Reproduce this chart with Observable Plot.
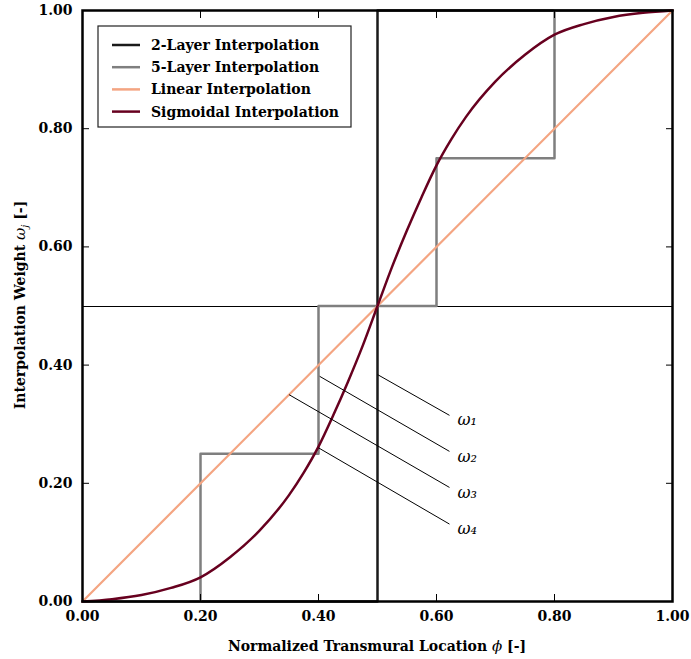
<!DOCTYPE html>
<html><head><meta charset="utf-8">
<script src="https://cdn.jsdelivr.net/npm/d3@7"></script>
<script src="https://cdn.jsdelivr.net/npm/@observablehq/plot@0.6"></script>
<style>body{margin:0;background:#fff}#chart{width:691px;height:659px}</style>
</head><body><div id="chart"></div>
<script>
const xTicks = [0, 0.2, 0.4, 0.6, 0.8, 1.0];
const yTicks = [0, 0.2, 0.4, 0.6, 0.8, 1.0];
const seriesNames = ["2-Layer Interpolation", "5-Layer Interpolation", "Linear Interpolation", "Sigmoidal Interpolation"];
const seriesColors = ["#1a1a1a", "#7f7f7f", "#f4a582", "#67001f"];
const twoLayerX = [0, 0.5, 0.5, 1];
const twoLayerY = [0, 0, 1, 1];
const fiveLayerX = [0, 0.2, 0.2, 0.4, 0.4, 0.6, 0.6, 0.8, 0.8, 1];
const fiveLayerY = [0, 0, 0.25, 0.25, 0.5, 0.5, 0.75, 0.75, 1, 1];
const linearX = [0, 1];
const linearY = [0, 1];
const sigmoidX = [0, 0.05, 0.1, 0.15, 0.2, 0.25, 0.3, 0.35, 0.375, 0.4, 0.425, 0.45, 0.475, 0.5, 0.525, 0.55, 0.575, 0.6, 0.625, 0.65, 0.7, 0.75, 0.8, 0.85, 0.9, 0.95, 1];
const sigmoidY = [0, 0.004, 0.011, 0.023, 0.041, 0.075, 0.12, 0.18, 0.218, 0.262, 0.315, 0.372, 0.433, 0.5, 0.567, 0.628, 0.685, 0.738, 0.782, 0.82, 0.88, 0.925, 0.959, 0.977, 0.989, 0.996, 1];
const refLineY = [0.5];
const annotLabels = ["ω₁", "ω₂", "ω₃", "ω₄"];
const annotX1 = [0.5, 0.402, 0.35, 0.4];
const annotY1 = [0.384, 0.381, 0.35, 0.26];
const annotX2 = [0.622, 0.622, 0.622, 0.622];
const annotY2 = [0.315, 0.254, 0.193, 0.131];

const toPts = (xs, ys) => xs.map((x, i) => ({x, y: ys[i]}));
const annot = annotLabels.map((s, i) => ({s, x1: annotX1[i], y1: annotY1[i], x2: annotX2[i], y2: annotY2[i]}));
const fmt = d3.format(".2f");
const serif = "'DejaVu Serif', 'Liberation Serif', serif";
const T = 7;

const svg = Plot.plot({
  width: 691, height: 659,
  marginLeft: 82, marginRight: 19, marginTop: 10, marginBottom: 58,
  style: {fontFamily: serif, fontSize: "14px", fontWeight: "bold", background: "#fff"},
  x: {domain: [0, 1], label: null},
  y: {domain: [0, 1], label: null},
  marks: [
    Plot.ruleY(refLineY, {stroke: "#000", strokeWidth: 1, shapeRendering: "crispEdges"}),
    Plot.line(toPts(twoLayerX, twoLayerY), {x: "x", y: "y", stroke: seriesColors[0], strokeWidth: 2.5}),
    Plot.line(toPts(fiveLayerX, fiveLayerY), {x: "x", y: "y", stroke: seriesColors[1], strokeWidth: 2.5}),
    Plot.line(toPts(linearX, linearY), {x: "x", y: "y", stroke: seriesColors[2], strokeWidth: 2.2}),
    Plot.line(toPts(sigmoidX, sigmoidY), {x: "x", y: "y", stroke: seriesColors[3], strokeWidth: 2.5, curve: "monotone-x"}),
    Plot.link(annot, {x1: "x1", y1: "y1", x2: "x2", y2: "y2", stroke: "#000", strokeWidth: 1}),
    Plot.text(annot, {x: "x2", y: "y2", text: "s", dx: 8, dy: 5, textAnchor: "start", fontStyle: "italic", fontWeight: "normal", fontSize: 16}),
    Plot.frame({stroke: "#000", strokeWidth: 2.5}),
    Plot.axisX({anchor: "bottom", ticks: xTicks, tickSize: 0, tickPadding: 10, tickFormat: fmt}),
    Plot.axisY({anchor: "left", ticks: yTicks, tickSize: 0, tickPadding: 10, tickFormat: fmt}),
    Plot.axisX({anchor: "bottom", ticks: xTicks, tickSize: T, dy: -T, tickFormat: () => ""}),
    Plot.axisX({anchor: "top", ticks: xTicks, tickSize: T, dy: T, tickFormat: () => ""}),
    Plot.axisY({anchor: "left", ticks: yTicks, tickSize: T, dx: T, tickFormat: () => ""}),
    Plot.axisY({anchor: "right", ticks: yTicks, tickSize: T, dx: -T, tickFormat: () => ""})
  ]
});

const s = d3.select(svg);
// axis titles
const xl = s.append("text").attr("x", 377).attr("y", 651).attr("text-anchor", "middle")
  .attr("font-family", serif).attr("font-size", 14).attr("font-weight", "bold").attr("fill", "#000");
xl.append("tspan").text("Normalized Transmural Location ");
xl.append("tspan").attr("font-style", "italic").attr("font-weight", "normal").attr("font-size", 15).text("ϕ");
xl.append("tspan").text(" [-]");

const yl = s.append("text").attr("transform", "translate(25,305) rotate(-90)").attr("text-anchor", "middle")
  .attr("font-family", serif).attr("font-size", 14).attr("font-weight", "bold").attr("fill", "#000");
yl.append("tspan").text("Interpolation Weight ");
yl.append("tspan").attr("font-style", "italic").attr("font-weight", "normal").attr("font-size", 15).text("ω");
yl.append("tspan").attr("font-style", "italic").attr("font-weight", "normal").attr("font-size", 10).attr("dy", 3).text("j");
yl.append("tspan").attr("dy", -3).text(" [-]");

// legend
const lg = s.append("g").attr("transform", "translate(98,26)");
lg.append("rect").attr("width", 253).attr("height", 101).attr("fill", "#fff").attr("stroke", "#222").attr("stroke-width", 1.2);
seriesNames.forEach((name, i) => {
  const row = lg.append("g").attr("transform", `translate(0,${19 + 22.2 * i})`);
  row.append("line").attr("x1", 14).attr("x2", 42).attr("stroke", seriesColors[i]).attr("stroke-width", 2.5);
  row.append("text").attr("x", 53).attr("dy", "0.35em").attr("text-anchor", "start").attr("font-family", serif)
    .attr("font-size", 14).attr("font-weight", "bold").attr("fill", "#000").text(name);
});

document.getElementById("chart").appendChild(svg);
</script>
</body></html>
